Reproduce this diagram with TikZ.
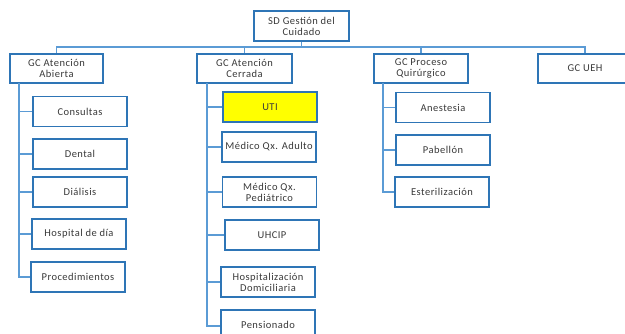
\documentclass[tikz,border=0pt]{standalone}
\usepackage{fontspec}
\setmainfont{Carlito}[LetterSpace=4.5]
\begin{document}
\begin{tikzpicture}[x=1pt,y=-1pt,
  box/.style={draw=boxblue,line width=1.4pt,fill=white,minimum width=94pt,minimum height=30pt,
    align=center,inner sep=1pt,font=\fontsize{10.5}{11}\selectfont,text=textgray},
  conn/.style={draw=linkblue,line width=1.8pt}]
\definecolor{boxblue}{HTML}{2E75B6}
\definecolor{linkblue}{HTML}{5B9BD5}
\definecolor{textgray}{HTML}{3A3A3A}
\definecolor{uti}{HTML}{FFFF00}
\useasboundingbox (0,0) rectangle (625,333);
\fill[white] (0,0) rectangle (625,333);
% level 0
\node[box,minimum width=95pt] (root) at (301.5,26) {SD Gestión del\\Cuidado};
% level 1
\node[box,minimum width=93pt,minimum height=29pt] (ab) at (56.5,68.5) {GC Atención\\Abierta};
\node[box,minimum width=95pt,minimum height=29pt] (ce) at (244.5,68.5) {GC Atención\\Cerrada};
\node[box,minimum width=94pt,minimum height=29pt] (qu) at (421,68.5) {GC Proceso\\Quirúrgico};
\node[box,minimum width=94pt,minimum height=29pt] (ue) at (585,68.5) {GC UEH};
\coordinate (bus) at (0,47);
% bus connectors
\draw[conn] (root.south) -- (root.south |- bus) -| (ab.north);
\draw[conn] (root.south |- bus) -| (ue.north);
\draw[conn] (ce.north |- bus) -- (ce.north);
\draw[conn] (qu.north |- bus) -- (qu.north);
% Abierta children
\node[box] (c1) at (80,111.5) {Consultas};
\node[box] (c2) at (80,154) {Dental};
\node[box] (c3) at (80,192) {Diálisis};
\node[box] (c4) at (79,234) {Hospital de día};
\node[box] (c5) at (78,277) {Procedimientos};
\coordinate (ta) at (19,83);
\draw[conn] (ta) |- (c5.west);
\foreach \n in {c1,c2,c3,c4} \draw[conn] (ta |- \n.west) -- (\n.west);
% Cerrada children
\node[box,fill=uti] (d1) at (270,107) {UTI};
\node[box] (d2) at (269,147) {Médico Qx. Adulto};
\node[box] (d3) at (269.5,192) {Médico Qx.\\Pediátrico};
\node[box] (d4) at (272,235) {UHCIP};
\node[box] (d5) at (268,282) {Hospitalización\\Domiciliaria};
\node[box] (d6) at (268,325) {Pensionado};
\coordinate (tc) at (207,83);
\draw[conn] (tc) |- ([yshift=-1pt]d6.west);
\foreach \n in {d1,d2,d3,d4,d5} \draw[conn] (tc |- \n.west) -- (\n.west);
% Quirurgico children
\node[box] (q1) at (443,107.5) {Anestesia};
\node[box] (q2) at (443,150) {Pabellón};
\node[box] (q3) at (442,192) {Esterilización};
\coordinate (tq) at (383,83);
\draw[conn] (tq) |- (q3.west);
\foreach \n in {q1,q2} \draw[conn] (tq |- \n.west) -- (\n.west);
\end{tikzpicture}
\end{document}
